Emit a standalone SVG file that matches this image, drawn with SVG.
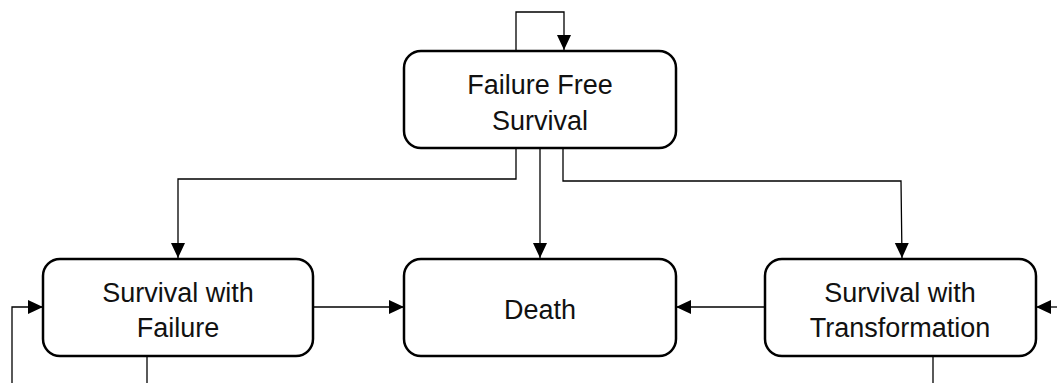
<svg xmlns="http://www.w3.org/2000/svg" width="1057" height="383" viewBox="0 0 1057 383">
<style>
.node{fill:#fff;stroke:#000;stroke-width:2.5}
.lbl{font-family:"Liberation Sans",Arial,sans-serif;font-size:27px;fill:#111;text-anchor:middle}
.edge{fill:none;stroke:#000;stroke-width:1.3}
</style>
<defs>
<marker id="ah" markerUnits="userSpaceOnUse" markerWidth="16" markerHeight="16" viewBox="0 0 16 16" refX="15" refY="8" orient="auto">
<path d="M0,1 L15,8 L0,15 Z" fill="#000"/>
</marker>
</defs>
<rect width="1057" height="383" fill="#fff"/>
<g id="connectors">
<path class="edge" d="M516,50 V12 H564 V50" marker-end="url(#ah)"/>
<path class="edge" d="M516,148 V179 H178 V258" marker-end="url(#ah)"/>
<path class="edge" d="M540,148 V258" marker-end="url(#ah)"/>
<path class="edge" d="M563,148 V181 H901 L902,258" marker-end="url(#ah)"/>
<path class="edge" d="M313,307 H404" marker-end="url(#ah)"/>
<path class="edge" d="M765,307 H676" marker-end="url(#ah)"/>
<path class="edge" d="M12,383 V307 H43" marker-end="url(#ah)"/>
<path class="edge" d="M1057,307 H1036" marker-end="url(#ah)"/>
<path class="edge" d="M147,356 V383"/>
<path class="edge" d="M933,356 V383"/>
</g>
<g id="ffs">
<rect class="node" x="404" y="51" width="272" height="97" rx="17"/>
<text class="lbl" x="540" y="94">Failure Free</text>
<text class="lbl" x="540" y="130">Survival</text>
</g>
<g id="swf">
<rect class="node" x="43" y="259" width="270" height="97" rx="17"/>
<text class="lbl" x="178" y="302">Survival with</text>
<text class="lbl" x="178" y="337">Failure</text>
</g>
<g id="death">
<rect class="node" x="404" y="259" width="272" height="97" rx="17"/>
<text class="lbl" x="540" y="319">Death</text>
</g>
<g id="swt">
<rect class="node" x="765" y="259" width="271" height="97" rx="17"/>
<text class="lbl" x="900" y="302">Survival with</text>
<text class="lbl" x="900" y="337">Transformation</text>
</g>
</svg>
